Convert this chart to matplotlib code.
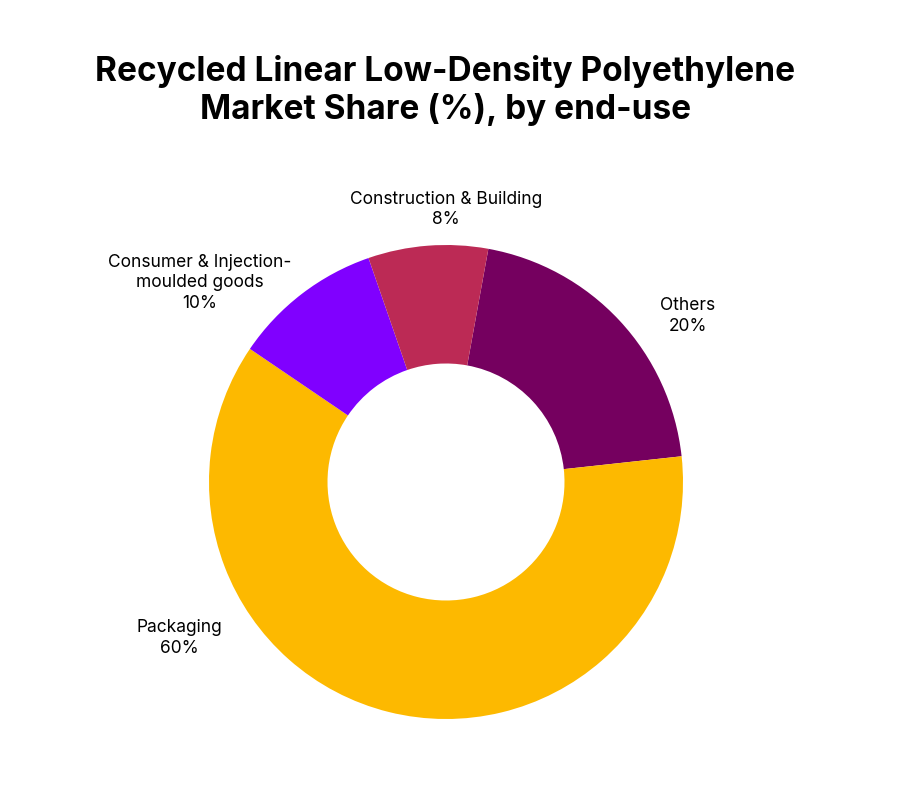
import matplotlib
matplotlib.use("Agg")
import matplotlib.pyplot as plt

categories = ["Others", "Packaging", "Consumer & Injection-\nmoulded goods", "Construction & Building"]
values = [20, 60, 10, 8]
colors = ["#75005F", "#FDB900", "#8000FF", "#BC2A55"]
label_pos = [(1.02, 0.70), (-1.127, -0.658), (-1.04, 0.84), (0.0, 1.15)]

plt.rcParams['font.family'] = ['Inter', 'DejaVu Sans']
fig = plt.figure(figsize=(9, 7.88), dpi=100)
fig.patch.set_facecolor("white")
fig.text(0.495, 0.885, "Recycled Linear Low-Density Polyethylene\nMarket Share (%), by end-use",
         ha="center", va="center", fontsize=24, fontweight="bold", linespacing=1.2)

ax = fig.add_axes([(446 - 237) / 900, (306 - 237) / 788, 474 / 900, 474 / 788])
ax.pie(values, colors=colors, startangle=79.7, counterclock=False,
       wedgeprops=dict(width=0.5, edgecolor="none"), radius=1.0)
ax.set_xlim(-1, 1); ax.set_ylim(-1, 1); ax.set_aspect("equal")
ax.axis("off")
for cat, v, (x, y) in zip(categories, values, label_pos):
    ax.text(x, y, f"{cat}\n{v}%", ha="center", va="center", fontsize=12.5,
            clip_on=False, linespacing=1.3)
fig.savefig("out.png", dpi=100)
